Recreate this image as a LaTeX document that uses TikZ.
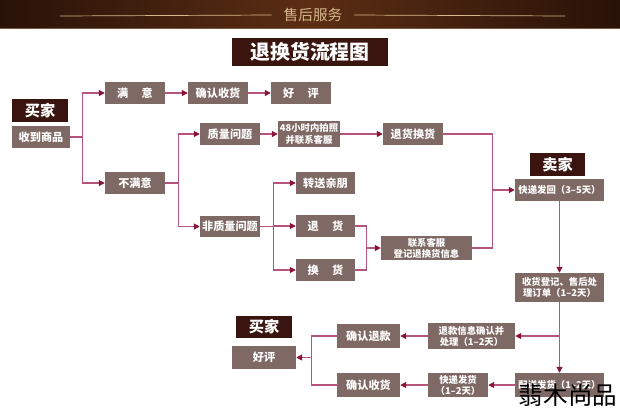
\documentclass[tikz,border=0pt]{standalone}
\usepackage{fontspec}
\setmainfont{Noto Sans CJK SC}
\usepackage{tikz}
\usetikzlibrary{arrows.meta,calc}
\definecolor{boxc}{RGB}{127,105,100}
\definecolor{darkc}{RGB}{58,21,15}
\definecolor{linec}{RGB}{182,84,126}
\definecolor{tipc}{RGB}{138,20,55}
\definecolor{hdark}{RGB}{40,18,8}
\definecolor{hmid}{RGB}{92,46,20}
\definecolor{goldc}{RGB}{214,184,140}

\begin{document}
\begin{tikzpicture}[x=0.03cm, y=-0.03cm,
  gbox/.style={fill=boxc, text=white, inner sep=0pt, align=center,
    font=\fontsize{9.5}{10.5}\selectfont\bfseries},
  sbox/.style={gbox, font=\fontsize{8}{9.5}\selectfont\bfseries},
  dbox/.style={fill=darkc, text=white, inner sep=0pt,
    font=\fontsize{13}{14}\selectfont\bfseries},
  ln/.style={draw=linec, line width=1pt},
  arr/.style={ln, -{Triangle[length=1.8mm, width=1.8mm, color=tipc]}}]
\fill[white] (0,0) rectangle (620,409);
\useasboundingbox (0,0) rectangle (620,409);

% header band
\shade[left color=hdark, right color=hdark, middle color=hmid] (0,0) rectangle (620,28);
\draw[hmid!80!white, line width=0.6pt] (0,28) -- (620,28);
\node[text=goldc, font=\fontsize{12.5}{13}\selectfont] (head) at (313,15) {售后服务};
\draw[goldc, line width=0.6pt] (60,16) -- ($(head.west)+(-8,0)$);
\draw[goldc, line width=0.6pt] ($(head.east)+(8,0)$) -- (565,16);

\node[dbox, minimum width=4.68cm, minimum height=0.84cm,
  font=\fontsize{17}{18}\selectfont\bfseries] (title) at (310,52) {退换货流程图};

\foreach \n/\xa/\ya/\xb/\yb/\t in {
  buyer/12/99/68/122/买家,
  seller/530/153/585/176/卖家,
  buyer2/236/316/292/338/买家}{
  \pgfmathsetmacro{\w}{(\xb-\xa)*0.03}
  \pgfmathsetmacro{\h}{(\yb-\ya)*0.03}
  \node[dbox, minimum width=\w cm, minimum height=\h cm]
    (\n) at ({(\xa+\xb)/2},{(\ya+\yb)/2}) {\t};
}

\foreach \n/\s/\xa/\ya/\xb/\yb/\t in {
  recv/gbox/12/126/70/148/收到商品,
  sat/gbox/105/82/165/104/满\hspace{1.2em}意,
  conf/gbox/188/82/248/104/确认收货,
  good/gbox/271/82/331/104/好\hspace{1.2em}评,
  unsat/gbox/105/172/165/194/不满意,
  qual/gbox/200/123/260/145/质量问题,
  photo/sbox/278/121/340/147/{48小时内拍照\\并联系客服},
  rex/gbox/383/123/443/145/退货换货,
  nqual/gbox/200/216/260/237/非质量问题,
  gift/gbox/296/172/355/194/转送亲朋,
  ret/gbox/296/215/355/237/退\hspace{1.2em}货,
  exch/gbox/296/259/355/281/换\hspace{1.2em}货,
  contact/sbox/381/236/472/260/{联系客服\\登记退换货信息},
  back/sbox/515/179/604/201/快递发回（3–5天）,
  reg/sbox/515/273/604/302/{收货登记、售后处\\理订单（1–2天）},
  refinfo/sbox/428/323/515/349/{退款信息确认并\\处理（1–2天）},
  crefund/gbox/337/324/400/348/确认退款,
  ship/sbox/515/373/604/397/配送发货（1–2天）,
  express/sbox/428/373/488/397/{快递发货\\（1–2天）},
  cship/gbox/337/373/400/397/确认收货,
  good2/gbox/232/346/296/369/好评}{
  \pgfmathsetmacro{\w}{(\xb-\xa)*0.03}
  \pgfmathsetmacro{\h}{(\yb-\ya)*0.03}
  \node[\s, minimum width=\w cm, minimum height=\h cm]
    (\n) at ({(\xa+\xb)/2},{(\ya+\yb)/2}) {\t};
}

% buyer side
\draw[arr] (recv.east) -- ++(12,0) coordinate (s1) |- (sat.west);
\draw[arr] (s1) |- (unsat.west);
\draw[arr] (sat) -- (conf);
\draw[arr] (conf) -- (good);
\draw[arr] (unsat.east) -- ++(13,0) coordinate (s2) |- (qual.west);
\draw[arr] (s2) |- (nqual.west);
\draw[arr] (qual) -- (photo);
\draw[arr] (photo) -- (rex);
\draw[arr] (nqual.east) -- ++(13,0) coordinate (s3) |- (gift.west);
\draw[arr] (s3) |- (ret.west);
\draw[arr] (s3) |- (exch.west);
\draw[ln] (ret.east) -- ++(11,0) coordinate (s4) |- (exch.east);
\draw[arr] (s4 |- contact.west) -- (contact.west);
\draw[ln] (rex.east) -- ++(49,0) coordinate (s5) |- (contact.east);
\draw[arr] (s5 |- back.west) -- (back.west);

% seller side
\draw[arr] (back) -- (reg);
\draw[arr] (reg) -- (ship);
\draw[arr] (reg.south |- refinfo.east) -- (refinfo.east);
\draw[arr] (refinfo) -- (crefund);
\draw[arr] (ship) -- (express);
\draw[arr] (express) -- (cship);
\draw[ln] (crefund.west) -- ++(-25,0) coordinate (s6) |- (cship.west);
\draw[arr] (s6 |- good2.east) -- (good2.east);

\node[text=black, font=\fontsize{21}{21}\selectfont] (mark) at (568,395) {翡木尚品};
\end{tikzpicture}
\end{document}
